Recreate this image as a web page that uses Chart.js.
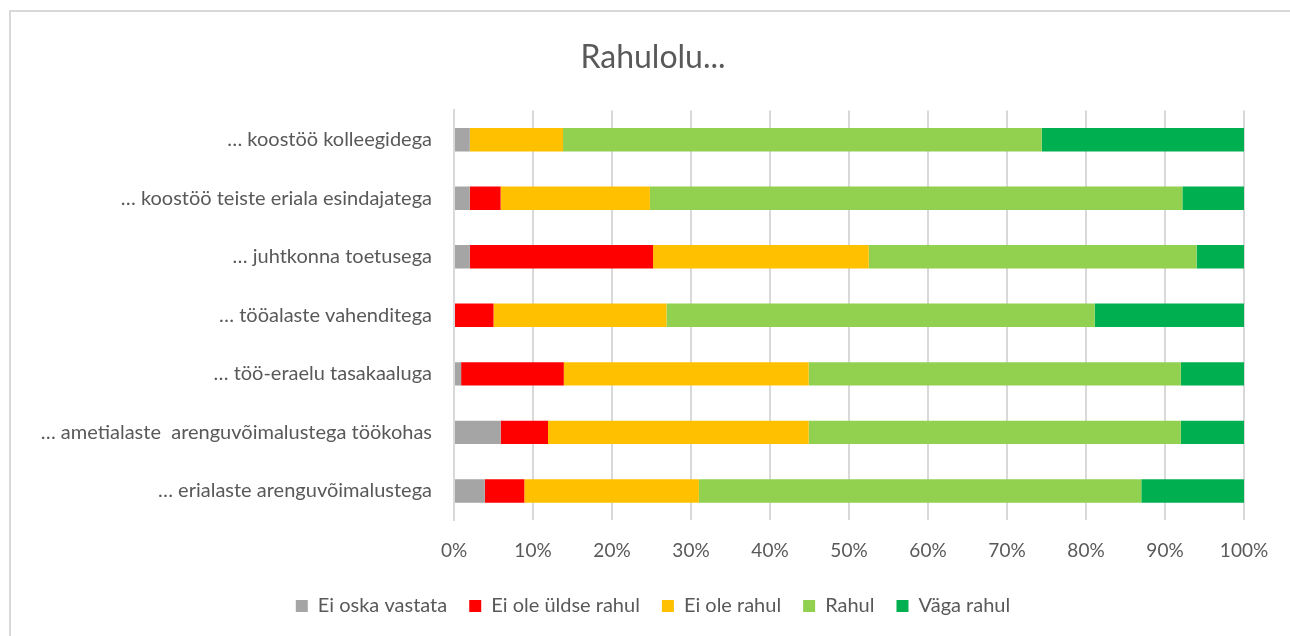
<html>
<head>
<script src="https://cdn.jsdelivr.net/npm/chart.js@4/dist/chart.umd.min.js"></script>
<style>
  body { margin: 0; background: #fff; overflow: hidden; }
  #frame { position: absolute; left: 9px; top: 10px; width: 1300px; height: 700px; border: 2px solid #d9d9d9; }
  #wrap { position: absolute; left: 0; top: 0; width: 1290px; height: 636px; }
</style>
</head>
<body>
<div id="frame"></div>
<div id="wrap"><canvas id="rahulolu"></canvas></div>

<script>
var categories = [
  "… koostöö kolleegidega",
  "… koostöö teiste eriala esindajatega",
  "… juhtkonna toetusega",
  "… tööalaste vahenditega",
  "… töö-eraelu tasakaaluga",
  "… ametialaste  arenguvõimalustega töökohas",
  "… erialaste arenguvõimalustega"
];
var eiOskaVastata   = [2, 2, 2, 0, 0.9, 5.9, 3.9];
var eiOleYldseRahul = [0, 3.9, 23.2, 5, 13, 6, 5];
var eiOleRahul      = [11.8, 18.9, 27.3, 21.9, 31, 33, 22.1];
var rahul           = [60.6, 67.4, 41.5, 54.2, 47.1, 47.1, 56];
var vagaRahul       = [25.6, 7.8, 6, 18.9, 8, 8, 13];
var xTicks = [0, 10, 20, 30, 40, 50, 60, 70, 80, 90, 100];

var textColor = "#595959";
var fontFamily = "Lato, 'Noto Sans', sans-serif";

function series(label, data, color) {
  return {
    label: label,
    data: data,
    backgroundColor: color,
    borderWidth: 0,
    barPercentage: 0.4,
    categoryPercentage: 1
  };
}

// pull the legend a little closer to the axis labels
var legendNudge = {
  id: "legendNudge",
  afterLayout: function(chart) {
    chart.legend.top -= 7;
    chart.legend.bottom -= 7;
  }
};

new Chart(document.getElementById("rahulolu"), {
  type: "bar",
  data: {
    labels: categories,
    datasets: [
      series("Ei oska vastata", eiOskaVastata, "#a5a5a5"),
      series("Ei ole üldse rahul", eiOleYldseRahul, "#ff0000"),
      series("Ei ole rahul", eiOleRahul, "#ffc000"),
      series("Rahul", rahul, "#92d050"),
      series("Väga rahul", vagaRahul, "#00b050")
    ]
  },
  plugins: [legendNudge],
  options: {
    indexAxis: "y",
    responsive: true,
    maintainAspectRatio: false,
    animation: false,
    layout: { padding: { left: 16, right: 0, top: 0, bottom: 3 } },
    plugins: {
      title: {
        display: true,
        text: "Rahulolu...",
        color: textColor,
        font: { family: fontFamily, size: 32, weight: "normal" },
        padding: { top: 38, bottom: 34 }
      },
      legend: {
        position: "bottom",
        labels: {
          color: textColor,
          font: { family: fontFamily, size: 20 },
          boxWidth: 12,
          boxHeight: 12,
          padding: 22
        }
      },
      tooltip: { enabled: false }
    },
    scales: {
      x: {
        stacked: true,
        min: 0,
        max: 100,
        afterBuildTicks: function(s) { s.ticks = xTicks.map(function(v) { return { value: v }; }); },
        grid: { color: "#d9d9d9", lineWidth: 2, drawTicks: false },
        border: { display: false },
        ticks: {
          color: textColor,
          font: { family: fontFamily, size: 19 },
          padding: 19,
          callback: function(v) { return v + "%"; }
        }
      },
      y: {
        stacked: true,
        afterFit: function(s) { s.width = 438; },
        grid: { display: false, drawTicks: false },
        border: { display: true, color: "#d9d9d9", width: 2 },
        ticks: {
          color: textColor,
          font: { family: fontFamily, size: 20 },
          padding: 22
        }
      },
      rightSpace: {
        type: "linear",
        position: "right",
        afterFit: function(s) { s.width = 46; },
        grid: { display: false, drawTicks: false },
        border: { display: false },
        ticks: { display: false }
      }
    }
  }
});
</script>
</body>
</html>
